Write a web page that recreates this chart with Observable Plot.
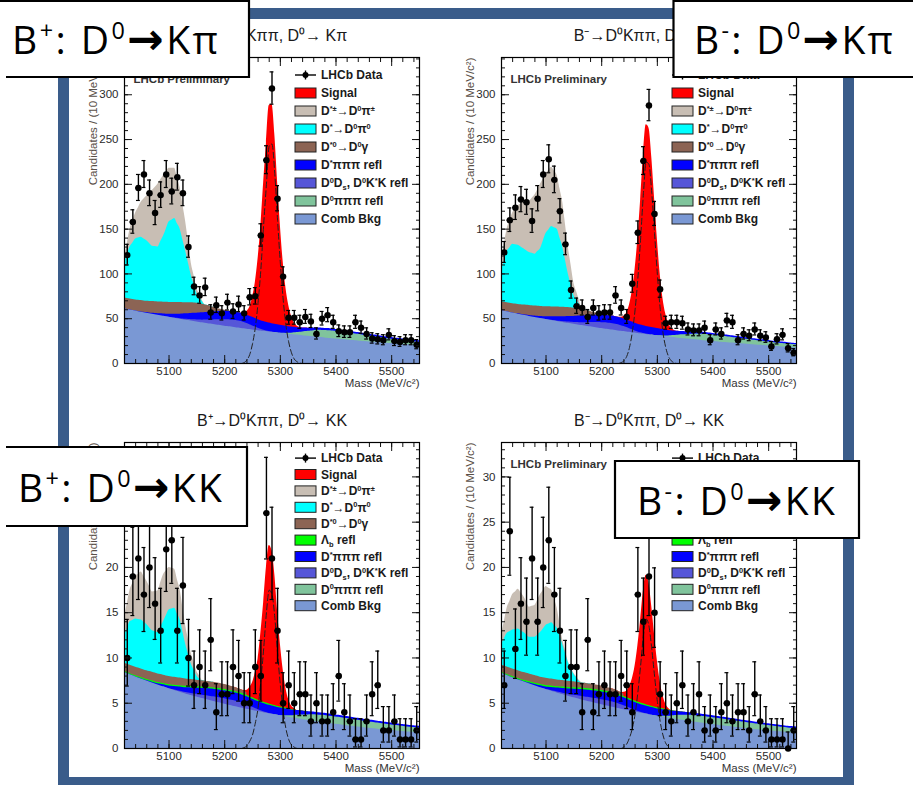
<!DOCTYPE html>
<html><head><meta charset="utf-8">
<script src="https://cdn.jsdelivr.net/npm/d3@7"></script>
<script src="https://cdn.jsdelivr.net/npm/@observablehq/plot@0.6"></script>
<style>
html,body{margin:0;padding:0;background:#fff;}
#root{position:relative;width:913px;height:785px;overflow:hidden;background:#fff;font-family:"Liberation Sans",Arial,sans-serif;}
.panel{position:absolute;}
</style></head>
<body><div id="root"></div>
<script>
// ---------------- data ----------------
const BIN_CENTERS = d3.range(5025, 5550, 10);          // 10 MeV bins, 5020-5550
const X_MAJOR = [5100, 5200, 5300, 5400, 5500];

// data points (candidates per bin)
const tlData = [121,158,196,211,190,168,188,211,192,208,190,130,86,76,85,57,65,56,68,58,66,56,74,75,143,227,307,184,97,51,51,46,52,47,33,50,54,46,36,35,35,46,40,33,28,27,26,32,25,24,26,26,21];
const trData = [124,160,174,183,180,159,184,211,228,205,170,133,82,64,62,52,62,56,57,57,76,62,52,89,146,226,288,167,83,45,46,46,45,38,37,37,40,26,38,33,48,46,26,33,31,38,31,29,19,27,32,17,12];
const blData = [10,19,21,17,20,16,13,22,23,13,18,10,7,9,7,12,4,6,6,9,8,5,5,9,8,26,21,13,5,7,5,6,6,3,5,3,3,4,8,4,3,1,1,3,6,7,2,2,3,1,1,1,2];
const brData = [7,24,11,16,14,21,14,20,23,17,13,8,9,9,4,12,4,6,7,6,6,8,7,4,17,14,19,15,6,4,3,5,7,3,4,6,2,3,2,4,5,3,4,4,2,6,3,2,1,1,1,0,2];

// first mass of each component array (10 MeV steps; signal 5 MeV steps)
const COMB_X0 = 5020, GREEN_X0 = 5300, VIOLET_X0 = 5100, BLUE_X0 = 5040, LB_X0 = 5020, BROWN_X0 = 5020, PEAK_X0 = 5020, SIG_X0 = 5230;

// ---- top-left : B+ , D0 -> K pi
const tlComb = [61.0,59.7,58.5,57.3,56.1,54.9,53.8,52.7,51.6,50.5,49.4,48.4,47.4,46.4,45.4,44.5,43.5,42.6,41.7,40.9,40.0,39.2,38.3,37.5,36.7,36.0,35.2,34.5,33.8,33.1,32.4,31.7,31.1,30.4,29.8,29.2,28.6,28.0,27.4,26.8,26.3,25.7,25.2,24.6,24.1,23.6,23.1,22.6,22.2,21.7,21.3,20.8,20.4,20.0];
const tlGreen = [0,0.5,1.5,2.8,4.2,5.5,6.8,7.8,8.3,8.5,8.5,8.3,8,7.7,7.4,7,6.6,6.2,5.8,5.4,5,4.7,4.4,4.1,3.9,3.7];
const tlViolet = [0,0.3,0.6,1,1.5,2.2,3,4,5.2,6.3,7.2,7.8,8,7.6,6.3,4.5,2.6,1.2,0.4,0];
const tlBlue = [0,0.3,0.7,1.2,1.8,2.5,3.3,4.2,5.1,6,6.9,7.6,8.2,8.7,9,9.2,9.3,9.3,9.3,9.3,9.4,9.5,9.6,9.6,9.5,9.3,8.8,8,6.8,5.5,4.4,3.5,2.9,2.5,2.3,2.2,2.1,2,2,2,1.9,1.9,1.9,1.9,1.8,1.8,1.8,1.8,1.7,1.7,1.7,1.7];
const tlBrown = [12,12.2,12.4,12.6,12.8,13,13.1,13.2,13.2,13.1,12.9,12.5,11.9,11,9.5,7.5,5,2.8,1.2,0.4,0];
const tlCyanTop = [112,130,139,141,137,131,130,142,158,162,150,125,98,78,69];
const tlGrayTop = [118,150,168,180,187,193,200,210,218,218,196,158,112,84,70];
const tlSignal = [0,1,4,10,22,40,68,105,155,200,243,245,212,160,112,72,43,24,12,5,2,0.5,0];

// ---- top-right : B- , D0 -> K pi
const trComb = [59,57.7,56.4,55.1,53.8,52.6,51.4,50.2,49.1,48.0,46.9,45.8,44.8,43.8,42.8,41.8,40.9,39.9,39.0,38.1,37.3,36.4,35.6,34.8,34.0,33.2,32.5,31.7,31.0,30.3,29.6,28.9,28.3,27.6,27.0,26.4,25.8,25.2,24.6,24.1,23.5,23.0,22.5,22.0,21.5,21.0,20.5,20.0,19.6,19.1,18.7,18.3,17.9,17.5];
const trGreen = [0,0.4,1.2,2.3,3.5,4.6,5.6,6.4,6.9,7.1,7.1,7,6.8,6.5,6.2,5.9,5.6,5.3,5,4.7,4.4,4.1,3.9,3.7,3.5,3.3];
const trViolet = [0,0.3,0.6,1,1.4,2,2.8,3.7,4.8,5.8,6.6,7.1,7.2,6.8,5.7,4,2.3,1,0.3,0];
const trBlue = [0,0.3,0.6,1.1,1.6,2.2,3,3.8,4.6,5.4,6.2,6.8,7.4,7.8,8.1,8.3,8.4,8.4,8.4,8.4,8.5,8.6,8.7,8.7,8.6,8.4,8,7.2,6.1,5,4,3.2,2.6,2.3,2.1,2,1.9,1.9,1.8,1.8,1.8,1.8,1.7,1.7,1.7,1.7,1.6,1.6,1.6,1.6,1.5,1.5];
const trBrown = [10,10.2,10.4,10.6,10.8,11,11.1,11.2,11.2,11.1,10.9,10.5,10,9.2,8,6.4,4.3,2.4,1,0.3,0];
const trCyanTop = [104,125,133,132,128,124,122,128,145,153,150,130,100,76,66];
const trGrayTop = [115,150,168,176,180,181,188,200,212,219,210,180,130,90,70];
const trSignal = [0,1,3,8,18,35,60,95,140,190,225,222,190,145,100,62,35,18,8,3,1,0,0];

// ---- bottom-left : B+ , D0 -> K K
const blComb = [8.40,8.15,7.91,7.68,7.45,7.23,7.01,6.81,6.60,6.41,6.22,6.03,5.85,5.68,5.51,5.35,5.19,5.04,4.89,4.74,4.60,4.47,4.33,4.21,4.08,3.96,3.84,3.73,3.62,3.51,3.41,3.31,3.21,3.11,3.02,2.93,2.84,2.76,2.68,2.60,2.52,2.45,2.37,2.30,2.24,2.17,2.11,2.04,1.98,1.93,1.87,1.81,1.76,1.71];
const blGreen = [0,0.1,0.2,0.35,0.5,0.6,0.7,0.75,0.8,0.8,0.8,0.8,0.78,0.76,0.74,0.72,0.7,0.68,0.66,0.64,0.62,0.6,0.58,0.56,0.55,0.54];
const blViolet = [0,0.05,0.1,0.15,0.22,0.3,0.38,0.45,0.52,0.57,0.6,0.62,0.62,0.58,0.48,0.34,0.2,0.1,0.03,0];
const blBlue = [0,0.02,0.05,0.1,0.15,0.22,0.3,0.38,0.46,0.54,0.62,0.68,0.74,0.79,0.83,0.86,0.88,0.9,0.9,0.9,0.9,0.9,0.9,0.9,0.9,0.88,0.84,0.76,0.65,0.53,0.43,0.35,0.3,0.27,0.25,0.24,0.23,0.23,0.23,0.22,0.22,0.22,0.22,0.21,0.21,0.21,0.21,0.2,0.2,0.2,0.2,0.2];
const blLambda = [0.12,0.12,0.13,0.13,0.13,0.14,0.14,0.14,0.15,0.15,0.15,0.15,0.15,0.15,0.15,0.15,0.15,0.15,0.15,0.15,0.15,0.15,0.15,0.15,0.15,0.15,0.15,0.14,0.12,0.09,0.05,0.02,0];
const blBrown = [0.9,0.92,0.94,0.95,0.95,0.95,0.94,0.92,0.9,0.88,0.85,0.82,0.78,0.74,0.7,0.66,0.62,0.58,0.54,0.5,0.45,0.38,0.28,0.16,0.06,0];
const blCyanTop = [12.5,14.0,14.3,14.2,13.7,13.0,12.8,14.0,15.3,15.5,14.2,11.5,9.3,8.0,7.3];
const blGrayTop = [14.5,17.5,19.0,19.5,18.5,17.3,17.4,19.2,20.0,19.8,17.5,13.5,10.5,8.5,7.5];
const blSignal = [0,0.1,0.3,0.8,1.5,2.8,4.5,7.5,11,15,17.5,17,14.5,10.5,7,4.2,2.2,1,0.4,0.15,0,0,0];

// ---- bottom-right : B- , D0 -> K K
const brComb = [8.30,8.05,7.82,7.58,7.36,7.14,6.93,6.72,6.52,6.33,6.14,5.96,5.78,5.61,5.45,5.28,5.13,4.98,4.83,4.69,4.55,4.41,4.28,4.15,4.03,3.91,3.80,3.68,3.57,3.47,3.37,3.27,3.17,3.08,2.98,2.90,2.81,2.73,2.65,2.57,2.49,2.42,2.35,2.28,2.21,2.14,2.08,2.02,1.96,1.90,1.84,1.79,1.74,1.69];
const brGreen = [0,0.1,0.2,0.35,0.5,0.6,0.68,0.72,0.75,0.76,0.76,0.75,0.74,0.72,0.7,0.68,0.66,0.64,0.62,0.6,0.58,0.56,0.54,0.52,0.5,0.5];
const brViolet = [0,0.05,0.1,0.15,0.2,0.28,0.35,0.42,0.48,0.53,0.56,0.58,0.58,0.54,0.45,0.32,0.19,0.09,0.03,0];
const brBlue = [0,0.02,0.05,0.1,0.15,0.2,0.28,0.36,0.44,0.52,0.6,0.66,0.72,0.77,0.81,0.84,0.86,0.87,0.87,0.87,0.87,0.87,0.87,0.87,0.86,0.84,0.8,0.72,0.62,0.5,0.4,0.33,0.28,0.25,0.23,0.22,0.21,0.21,0.21,0.21,0.2,0.2,0.2,0.2,0.2,0.19,0.19,0.19,0.19,0.18,0.18,0.18];
const brLambda = [0.12,0.12,0.13,0.13,0.13,0.14,0.14,0.14,0.15,0.15,0.15,0.15,0.15,0.15,0.15,0.15,0.15,0.15,0.15,0.15,0.15,0.15,0.15,0.15,0.15,0.15,0.15,0.14,0.12,0.09,0.05,0.02,0];
const brBrown = [0.8,0.82,0.84,0.85,0.85,0.85,0.84,0.82,0.8,0.78,0.75,0.72,0.69,0.66,0.62,0.58,0.55,0.52,0.49,0.46,0.42,0.36,0.27,0.16,0.06,0];
const brCyanTop = [11.5,12.7,13.1,13.2,12.8,12.3,12.3,12.8,13.6,13.9,13.3,11.5,9.5,8.2,7.4];
const brGrayTop = [12.5,15.5,17.0,17.6,16.8,15.6,15.8,17.0,17.9,17.5,15.5,12.0,9.6,8.3,7.5];
const brSignal = [0,0,0.2,0.5,1.2,2.2,3.8,6.2,9.2,12.5,14.3,13.5,11,8,5.2,3,1.5,0.6,0.2,0,0,0,0];

const TITLES = ["B⁺→D⁰Kππ, D⁰→ Kπ", "B⁻→D⁰Kππ, D⁰→ Kπ", "B⁺→D⁰Kππ, D⁰→ KK", "B⁻→D⁰Kππ, D⁰→ KK"];

// ---------------- helpers ----------------
const COL = {signal:"#ff0000", gray:"#c8beb4", cyan:"#00ffff", brown:"#8c6454", lambda:"#00ff00",
             blue:"#0000ff", violet:"#5656d8", green:"#80c49c", comb:"#7a98d4"};
const G5 = d3.range(5020, 5551, 5);

function interp(x0, vals, step) {
  return m => {
    const t = (m - x0) / step;
    if (t < -1e-9 || t > vals.length - 1 + 1e-9) return null;
    const i = Math.min(Math.floor(t + 1e-9), vals.length - 1), f = t - i;
    return i + 1 < vals.length ? vals[i] + (vals[i + 1] - vals[i]) * f : vals[i];
  };
}
// ROOT-style asymmetric Poisson (Garwood) error bars, Wilson-Hilferty form
const poissonLo = n => n <= 0 ? 0 : n * Math.pow(1 - 1 / (9 * n) - 1 / (3 * Math.sqrt(n)), 3);
const poissonHi = n => { const k = n + 1; return k * Math.pow(1 - 1 / (9 * k) + 1 / (3 * Math.sqrt(k)), 3); };

function buildRows(p) {
  const comb = interp(COMB_X0, p.comb, 10), green = interp(GREEN_X0, p.green, 10),
        violet = interp(VIOLET_X0, p.violet, 10), blue = interp(BLUE_X0, p.blue, 10),
        lam = p.lambda ? interp(LB_X0, p.lambda, 10) : () => 0, brown = interp(BROWN_X0, p.brown, 10),
        cyan = interp(PEAK_X0, p.cyanTop, 10), gray = interp(PEAK_X0, p.grayTop, 10),
        sig = interp(SIG_X0, p.signal, 5);
  const z = v => v ?? 0;
  return G5.map(m => {
    const c1 = z(comb(m)), c2 = c1 + z(green(m)), c3 = c2 + z(violet(m)), c4 = c3 + z(blue(m)),
          c5 = c4 + z(lam(m)), c6 = c5 + z(brown(m));
    const c7 = Math.max(c6, z(cyan(m))), c8 = Math.max(c7, z(gray(m)));
    const s = z(sig(m));
    return {m, c1, c2, c3, c4, c5, c6, c7, c8, c9: c8 + s, s};
  });
}

const LAYERS = [
  {key:"c9", color:COL.signal, lo:5215, hi:5350},
  {key:"c8", color:COL.gray, lo:5020, hi:5180},
  {key:"c7", color:COL.cyan, lo:5020, hi:5180},
  {key:"c6", color:COL.brown, lo:5020, hi:5240},
  {key:"c5", color:COL.lambda, lo:5020, hi:5350, kk:true},
  {key:"c4", color:COL.blue, lo:5020, hi:5550},
  {key:"c3", color:COL.violet, lo:5090, hi:5300},
  {key:"c2", color:COL.green, lo:5290, hi:5550},
  {key:"c1", color:COL.comb, lo:5020, hi:5550}
];

// label boxes laid over the slide (x, y, w, h of their white area)
const BOXES = [
  {fill:[0, 0, 249, 77], path:"M0,1 H249 V77 H6", tx:12, ty:54, parts:[["B"],["+","sup"],[": D"],["0","sup"],["→","arrow"],["Kπ"]], len:206},
  {fill:[673, 0, 240, 77], path:"M913,1 H673.5 V77 H913", tx:694, ty:54, parts:[["B"],["-","sup"],[": D"],["0","sup"],["→","arrow"],["Kπ"]], len:199},
  {fill:[0, 447, 247, 79], path:"M6,447 H247 V526 H6", tx:18, ty:502, parts:[["B"],["+","sup"],[": D"],["0","sup"],["→","arrow"],["KK"]], len:204},
  {fill:[615, 461, 244, 77], path:"M615,461 H859 V538 H615 Z", tx:637, ty:515, parts:[["B"],["-","sup"],[": D"],["0","sup"],["→","arrow"],["KK"]], len:198}
];
const hiddenUnderBox = (x0, y0, x1, y1) => BOXES.some(b =>
  x0 >= b.fill[0] && x1 <= b.fill[0] + b.fill[2] && y0 >= b.fill[1] && y1 <= b.fill[1] + b.fill[3]);

const PW = 395, PH = 400, ML = 84, MR = 16, MT = 50, MB = 44, FW = PW - ML - MR, FH = PH - MT - MB;
const panels = [
  {fx:124, fy:57, ymax:341.6, yMaj:50, yMin:10, title:TITLES[0], data:tlData, comb:tlComb, green:tlGreen, violet:tlViolet, blue:tlBlue, brown:tlBrown, cyanTop:tlCyanTop, grayTop:tlGrayTop, signal:tlSignal, kk:false},
  {fx:501, fy:57, ymax:341.6, yMaj:50, yMin:10, title:TITLES[1], data:trData, comb:trComb, green:trGreen, violet:trViolet, blue:trBlue, brown:trBrown, cyanTop:trCyanTop, grayTop:trGrayTop, signal:trSignal, kk:false},
  {fx:124, fy:441.5, ymax:33.8, yMaj:5, yMin:1, title:TITLES[2], data:blData, comb:blComb, green:blGreen, violet:blViolet, blue:blBlue, lambda:blLambda, brown:blBrown, cyanTop:blCyanTop, grayTop:blGrayTop, signal:blSignal, kk:true},
  {fx:501, fy:441.5, ymax:33.8, yMaj:5, yMin:1, title:TITLES[3], data:brData, comb:brComb, green:brGreen, violet:brViolet, blue:brBlue, lambda:brLambda, brown:brBrown, cyanTop:brCyanTop, grayTop:brGrayTop, signal:brSignal, kk:true}
];

const root = document.getElementById("root");

function makePanel(p) {
  const rows = buildRows(p);
  const pts = p.data.map((n, i) => ({m: BIN_CENTERS[i], n, lo: poissonLo(n), hi: poissonHi(n)}));
  const yMajor = d3.range(0, p.ymax, p.yMaj), yMinor = d3.range(0, p.ymax, p.yMin);
  const xMinor = d3.range(5020, 5551, 20);
  const yPix = v => p.fy + FH * (1 - v / p.ymax);
  // tick labels that the slide's label boxes cover completely are not drawn
  const yLabels = yMajor.filter(v => !hiddenUnderBox(p.fx - 30, yPix(v) - 6, p.fx - 5, yPix(v) + 6));
  const prelimHidden = hiddenUnderBox(p.fx + 8, p.fy + 14, p.fx + 110, p.fy + 29);
  const areaMarks = LAYERS.filter(L => !L.kk || p.kk).map(L =>
    Plot.areaY(rows.filter(r => r.m >= L.lo && r.m <= L.hi), {x:"m", y1:0, y2:L.key, fill:L.color, curve:"monotone-x", clip:true}));
  const tickCol = "#111";
  const plot = Plot.plot({
    width: PW, height: PH, marginLeft: ML, marginRight: MR, marginTop: MT, marginBottom: MB,
    x: {domain: [5020, 5550]},
    y: {domain: [0, p.ymax]},
    style: {fontFamily: "'Liberation Sans', Arial, sans-serif", background: "transparent", overflow: "visible"},
    marks: [
      ...areaMarks,
      Plot.line(rows.filter(r => r.m >= 5215 && r.m <= 5350), {x:"m", y:"s", stroke:"#222", strokeWidth:1, strokeDasharray:"6,3", curve:"monotone-x", clip:true}),
      Plot.ruleX(pts, {x:"m", y1:"lo", y2:"hi", stroke:"#000", strokeWidth:1.4}),
      Plot.ruleY(pts, {y:"lo", x1:d => d.m - 3.5, x2:d => d.m + 3.5, stroke:"#000", strokeWidth:1.2}),
      Plot.ruleY(pts, {y:"hi", x1:d => d.m - 3.5, x2:d => d.m + 3.5, stroke:"#000", strokeWidth:1.2}),
      Plot.ruleY(pts, {y:"n", x1:d => d.m - 5, x2:d => d.m + 5, stroke:"#000", strokeWidth:1.6}),
      Plot.dot(pts, {x:"m", y:"n", r:3.2, fill:"#000"}),
      // inward ticks on all four sides
      Plot.axisX(xMinor, {anchor:"bottom", tickSize:-4, fill:"none", stroke:tickCol, label:null}),
      Plot.axisX(X_MAJOR, {anchor:"bottom", tickSize:-8, fill:"none", stroke:tickCol, label:null}),
      Plot.axisX(xMinor, {anchor:"top", tickSize:-4, fill:"none", stroke:tickCol, label:null}),
      Plot.axisX(X_MAJOR, {anchor:"top", tickSize:-8, fill:"none", stroke:tickCol, label:null}),
      Plot.axisY(yMinor, {anchor:"left", tickSize:-4, fill:"none", stroke:tickCol, label:null}),
      Plot.axisY(yMajor, {anchor:"left", tickSize:-8, fill:"none", stroke:tickCol, label:null}),
      Plot.axisY(yMinor, {anchor:"right", tickSize:-4, fill:"none", stroke:tickCol, label:null}),
      Plot.axisY(yMajor, {anchor:"right", tickSize:-8, fill:"none", stroke:tickCol, label:null}),
      // tick labels
      Plot.axisX(X_MAJOR, {anchor:"bottom", tickSize:0, tickPadding:3, tickFormat:d => String(d), fontSize:11.5, fill:"#2a2a2a", label:null}),
      Plot.axisY(yLabels, {anchor:"left", tickSize:0, tickPadding:6, tickFormat:d => String(d), fontSize:11.5, fill:"#2a2a2a", label:null}),
      Plot.frame({stroke:"#000", strokeWidth:1.2}),
      // texts
      Plot.text([p.title], {text:d => d, frameAnchor:"top", lineAnchor:"middle", dy:-22, fontSize:16, fill:"#1a1a1a"}),
      Plot.text(["Mass (MeV/c²)"], {text:d => d, frameAnchor:"bottom-right", lineAnchor:"middle", dy:20, textAnchor:"end", fontSize:11.5, fill:"#333"}),
      Plot.text(["Candidates / (10 MeV/c²)"], {text:d => d, frameAnchor:"top-left", lineAnchor:"middle", dx:-31, rotate:-90, textAnchor:"end", fontSize:11.5, fill:"#5a5048"}),
      prelimHidden ? null : Plot.text(["LHCb Preliminary"], {text:d => d, frameAnchor:"top-left", lineAnchor:"middle", dx:9, dy:p.kk ? 21.5 : 22, textAnchor:"start", fontSize:11.5, fontWeight:"bold", fill:"#333"})
    ]
  });
  plot.classList.add("panel");
  plot.style.left = (p.fx - ML) + "px";
  plot.style.top = (p.fy - MT) + "px";
  root.appendChild(plot);
}
panels.forEach(makePanel);

// ---------------- overlay: legends, slide frame, label boxes ----------------
const LEGEND_TOP = [
  {kind:"data", parts:[["LHCb Data"]]},
  {fill:COL.signal, parts:[["Signal"]]},
  {fill:COL.gray, parts:[["D"],["*±","sup"],["→D"],["0","sup"],["π"],["±","sup"]]},
  {fill:COL.cyan, parts:[["D"],["*","sup"],["→D"],["0","sup"],["π"],["0","sup"]]},
  {fill:COL.brown, parts:[["D"],["*0","sup"],["→D"],["0","sup"],["γ"]]},
  {fill:COL.lambda, parts:[["Λ"],["b","sub"],[" refl"]], kk:true},
  {fill:COL.blue, parts:[["D"],["*","sup"],["πππ refl"]]},
  {fill:COL.violet, parts:[["D"],["0","sup"],["D"],["s","sub"],[", D"],["0","sup"],["K"],["*","sup"],["K refl"]]},
  {fill:COL.green, parts:[["D"],["0","sup"],["πππ refl"]]},
  {fill:COL.comb, parts:[["Comb Bkg"]]}
];

const ov = d3.select(root).append("svg")
  .attr("width", 913).attr("height", 785)
  .style("position", "absolute").style("left", "0px").style("top", "0px")
  .attr("font-family", "'Liberation Sans', Arial, sans-serif");

function rich(textSel, parts, size, supShift, subShift) {
  let cur = 0;
  parts.forEach(([t, k]) => {
    const target = k === "sup" ? -supShift : k === "sub" ? subShift : 0;
    const ts = textSel.append("tspan").text(t).attr("dy", target - cur);
    if (k) ts.attr("font-size", size * 0.62);
    cur = target;
  });
}

panels.forEach(p => {
  const entries = LEGEND_TOP.filter(e => !e.kk || p.kk);
  const y0 = p.fy + (p.kk ? 16.6 : 18), dy = p.kk ? 16.4 : 18;
  const sx = p.fx + 171, sw = 21, tx = p.fx + 197;
  const g = ov.append("g");
  entries.forEach((e, i) => {
    const y = y0 + i * dy;
    if (hiddenUnderBox(sx, y - 7, sx + 125, y + 7)) return;   // fully covered in the slide
    if (e.kind === "data") {
      g.append("line").attr("x1", sx).attr("x2", sx + sw).attr("y1", y).attr("y2", y).attr("stroke", "#000").attr("stroke-width", 1.4);
      g.append("line").attr("x1", sx + sw / 2).attr("x2", sx + sw / 2).attr("y1", y - 4.5).attr("y2", y + 4.5).attr("stroke", "#000").attr("stroke-width", 1.4);
      g.append("circle").attr("cx", sx + sw / 2).attr("cy", y).attr("r", 3).attr("fill", "#000");
    } else {
      g.append("rect").attr("x", sx).attr("y", y - 5).attr("width", sw).attr("height", 10)
        .attr("fill", e.fill).attr("stroke", "#222").attr("stroke-width", 1);
    }
    const t = g.append("text").attr("x", tx).attr("y", y + 4.2).attr("font-size", 12)
      .attr("font-weight", "bold").attr("fill", "#1a1a1a");
    rich(t, e.parts, 12, 4.2, 2.5);
  });
});

// slide frame
ov.append("rect").attr("x", 63.5).attr("y", 13.5).attr("width", 785).attr("height", 769)
  .attr("fill", "none").attr("stroke", "#3a5c8a").attr("stroke-width", 11);

BOXES.forEach(b => {
  ov.append("rect").attr("x", b.fill[0]).attr("y", b.fill[1]).attr("width", b.fill[2]).attr("height", b.fill[3]).attr("fill", "#fff");
  ov.append("path").attr("d", b.path).attr("fill", "none").attr("stroke", "#000").attr("stroke-width", 2.2);
  const size = 39;
  const t = ov.append("text").attr("x", b.tx).attr("y", b.ty).attr("font-size", size)
    .attr("font-family", "'Open Sans', 'Noto Sans', sans-serif").attr("fill", "#000")
    .attr("textLength", b.len).attr("lengthAdjust", "spacing");
  let cur = 0;
  b.parts.forEach(([s, k]) => {
    const target = k === "sup" ? -15 : 0;
    const ts = t.append("tspan").text(s).attr("dy", target - cur);
    if (k === "sup") ts.attr("font-size", size * 0.6);
    if (k === "arrow") ts.attr("font-family", "'DejaVu Sans', sans-serif").attr("font-weight", "bold").attr("font-size", size * 1.12);
    cur = target;
  });
});
</script>
</body></html>
